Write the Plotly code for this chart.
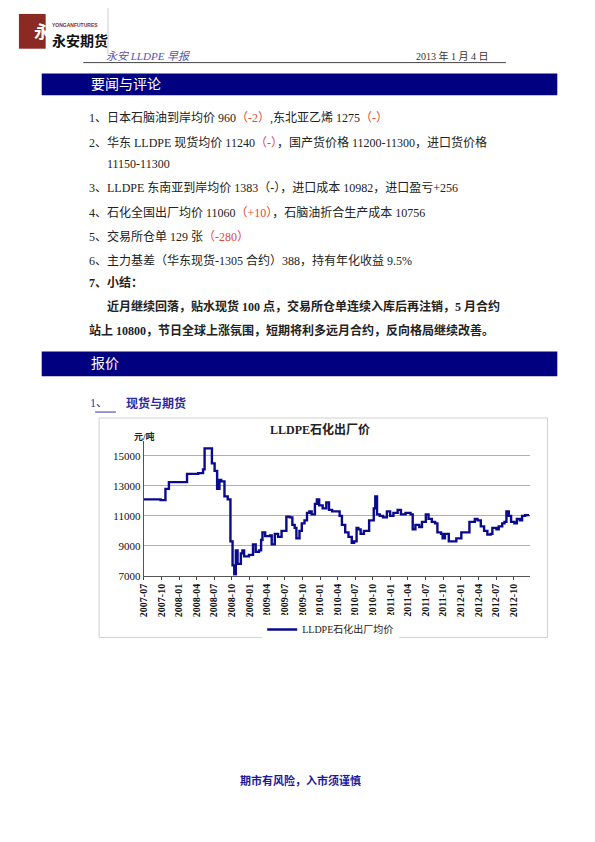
import plotly.graph_objects as go

# LLDPE petrochemical ex-factory price
dates = [
    "2007-07-01", "2007-09-27", "2007-10-22", "2007-11-09", "2008-01-24", "2008-02-11",
    "2008-04-09", "2008-05-04", "2008-05-12", "2008-06-07", "2008-06-19", "2008-07-03",
    "2008-07-16", "2008-07-28", "2008-08-06", "2008-08-23", "2008-09-09", "2008-09-23",
    "2008-10-04", "2008-10-13", "2008-10-21", "2008-10-30", "2008-11-16", "2008-11-24",
    "2008-12-03", "2008-12-28", "2009-01-18", "2009-02-01", "2009-02-18", "2009-03-01",
    "2009-03-08", "2009-03-22", "2009-04-16", "2009-04-25", "2009-05-11", "2009-05-28",
    "2009-06-15", "2009-07-02", "2009-07-10", "2009-07-27", "2009-08-10", "2009-08-22",
    "2009-08-31", "2009-09-16", "2009-09-28", "2009-10-12", "2009-10-25", "2009-11-06",
    "2009-11-18", "2009-12-05", "2009-12-15", "2009-12-27", "2010-01-14", "2010-02-02",
    "2010-02-16", "2010-03-04", "2010-03-29", "2010-04-12", "2010-04-24", "2010-05-11",
    "2010-05-28", "2010-06-14", "2010-06-26", "2010-07-09", "2010-07-18", "2010-07-30",
    "2010-08-16", "2010-09-02", "2010-09-12", "2010-10-06", "2010-10-14", "2010-10-23",
    "2010-11-06", "2010-11-23", "2010-12-13", "2010-12-30", "2011-01-16", "2011-02-07",
    "2011-02-24", "2011-03-20", "2011-04-15", "2011-04-26", "2011-05-10", "2011-05-30",
    "2011-06-13", "2011-07-03", "2011-07-17", "2011-08-03", "2011-08-20", "2011-09-01",
    "2011-09-20", "2011-09-28", "2011-10-10", "2011-10-30", "2011-11-21", "2011-12-08",
    "2012-01-03", "2012-01-25", "2012-02-14", "2012-03-13", "2012-03-27", "2012-04-13",
    "2012-04-30", "2012-05-17", "2012-06-03", "2012-06-12", "2012-07-03", "2012-07-15",
    "2012-08-02", "2012-08-14", "2012-08-24", "2012-09-05", "2012-09-17", "2012-10-04",
    "2012-10-17", "2012-11-01", "2012-11-13", "2012-11-29", "2012-12-20",
]
prices = [
    12100, 12050, 12800, 13250, 13250, 13800,
    13850, 14100, 15500, 15500, 14500, 14000,
    12800, 13400, 13300, 12300, 12100, 9300,
    7700, 7100, 8700, 7800, 8500, 8700,
    8300, 8400, 9100, 8600, 8700, 9400,
    9900, 9650, 9700, 9100, 9800, 9600,
    10000, 10000, 10950, 10900, 10400, 10200,
    9500, 10000, 10500, 10700, 11200, 11300,
    11100, 11800, 12100, 11700, 11500, 11900,
    11400, 11300, 11300, 11000, 10400, 9900,
    9600, 9200, 9300, 10200, 10100, 9800,
    10000, 10000, 10700, 11500, 12300, 11100,
    11000, 10900, 11300, 11000, 11200, 11400,
    11100, 11200, 11100, 10100, 10400, 10250,
    10600, 11100, 10800, 10600, 10500, 9900,
    9800, 9500, 9800, 9300, 9300, 9500,
    9900, 9900, 10600, 10800, 10700, 10300,
    10000, 9750, 9800, 10200, 10100, 10300,
    10500, 10600, 11300, 11000, 10600, 10500,
    10800, 10700, 11000, 11050, 11060,
]
y_ticks = [7000, 9000, 11000, 13000, 15000]

news = [
    "1、日本石脑油到岸均价 960<span style='color:#e04a3c'>（-2）</span>,东北亚乙烯 1275<span style='color:#e04a3c'>（-）</span>",
    "2、华东 LLDPE 现货均价 11240<span style='color:#e04a3c'>（-）</span>，国产货价格 11200-11300，进口货价格",
    "      11150-11300",
    "3、LLDPE 东南亚到岸均价 1383（-），进口成本 10982，进口盈亏+256",
    "4、石化全国出厂均价 11060<span style='color:#e04a3c'>（+10）</span>，石脑油折合生产成本 10756",
    "5、交易所仓单 129 张<span style='color:#e04a3c'>（-280）</span>",
    "6、主力基差（华东现货-1305 合约）388，持有年化收益 9.5%",
    "<b>7、小结：</b>",
    "<b>      近月继续回落，贴水现货 100 点，交易所仓单连续入库后再注销，5 月合约</b>",
    "<b>站上 10800，节日全球上涨氛围，短期将利多远月合约，反向格局继续改善。</b>",
]
news_y = [119, 143, 165, 189, 214, 238, 262, 285, 309, 333]

# page drawn inside the browser's 8px body margin
OFF = 8
W, H = 595 - 2 * OFF, 842 - 2 * OFF
FONT = "Liberation Serif, Noto Sans CJK SC"
NAVY = "#000080"


def py(p):
    return 1 - (p - OFF) / H


def px_(x):
    return (x - OFF) / W


fig = go.Figure()
fig.add_trace(go.Scatter(
    x=dates, y=prices, mode="lines", line=dict(color="#0a0a8c", width=2.4, shape="hv"),
    name="LLDPE石化出厂均价",
))

shapes = [
    dict(type="line", xref="paper", yref="paper", x0=px_(103), x1=px_(103), y0=py(8), y1=py(55),
         line=dict(color="#cccccc", width=1)),
    dict(type="line", xref="paper", yref="paper", x0=px_(78), x1=px_(505), y0=py(63), y1=py(63),
         line=dict(color="#444444", width=1)),
    dict(type="rect", xref="paper", yref="paper", x0=px_(36), x1=px_(557), y0=py(74), y1=py(96),
         fillcolor=NAVY, line=dict(width=0)),
    dict(type="rect", xref="paper", yref="paper", x0=px_(36), x1=px_(557), y0=py(354), y1=py(379),
         fillcolor=NAVY, line=dict(width=0)),
    dict(type="rect", xref="paper", yref="paper", x0=px_(13), x1=px_(40), y0=py(14), y1=py(49),
         fillcolor="#8b2a22", line=dict(width=0)),
    dict(type="rect", xref="paper", yref="paper", x0=px_(94), x1=px_(547), y0=py(421), y1=py(642),
         line=dict(color="#d0d0d0", width=1)),
    dict(type="line", xref="paper", yref="paper", x0=px_(90), x1=px_(111), y0=py(415), y1=py(415),
         line=dict(color="#3030c0", width=1)),
]

logo = [
    dict(x=px_(26.5), y=py(31), text="<b>永</b>", font=dict(size=17, color="white", family="Noto Sans CJK SC")),
    dict(x=px_(44), y=py(25), text="<b>YONGANFUTURES</b>", xanchor="left",
         font=dict(size=5, color="#8b2a22", family="Liberation Sans")),
    dict(x=px_(44), y=py(40), text="<b>永安期货</b>", xanchor="left",
         font=dict(size=14, color="#111111", family="Noto Sans CJK SC")),
]
ann = [
    dict(x=px_(105), y=py(56), text="<i>永安 LLDPE 早报</i>", xanchor="left",
         font=dict(size=11, color="#5555aa", family=FONT)),
    dict(x=px_(490), y=py(56), text="2013 年 1 月 4 日", xanchor="right",
         font=dict(size=10, color="#333333", family=FONT)),
    dict(x=px_(90), y=py(85), text="要闻与评论", xanchor="left",
         font=dict(size=14, color="white", family=FONT)),
    dict(x=px_(90), y=py(366), text="报价", xanchor="left",
         font=dict(size=14, color="white", family=FONT)),
    dict(x=px_(89), y=py(406), text="1、", xanchor="left",
         font=dict(size=12, color="#3030c0", family=FONT)),
    dict(x=px_(125), y=py(406), text="<b>现货与期货</b>", xanchor="left",
         font=dict(size=12, color="#2a2a9a", family=FONT)),
    dict(x=px_(317), y=py(433), text="<b>LLDPE石化出厂价</b>",
         font=dict(size=12, color="#222222", family=FONT)),
    dict(x=px_(133), y=py(440), text="<b>元/吨</b>", xanchor="left",
         font=dict(size=9, color="#222222", family=FONT)),
    dict(x=px_(297), y=py(786), text="<b>期市有风险，入市须谨慎</b>",
         font=dict(size=11, color="#1a1aa0", family=FONT)),
]
for t, y in zip(news, news_y):
    ann.append(dict(x=px_(88), y=py(y), text=t, xanchor="left",
                    font=dict(size=12, color="#222222", family=FONT)))
for a in ann:
    if a.get("xanchor") == "left":
        a["x"] -= 6 / W
ann = logo + ann
for a in ann:
    a.update(xref="paper", yref="paper", showarrow=False, yanchor="middle")

fig.update_layout(
    width=W, height=H, margin=dict(l=0, r=0, t=0, b=0),
    paper_bgcolor="white", plot_bgcolor="white",
    shapes=shapes, annotations=ann,
    showlegend=True,
    legend=dict(x=px_(328), y=py(634), xanchor="center", yanchor="middle", orientation="h",
                font=dict(size=10, family=FONT, color="#222222")),
    xaxis=dict(domain=[px_(139), px_(529)], range=["2007-07-01", "2012-12-22"],
               tickformat="%Y-%m", dtick="M3", tick0="2007-07-01", tickangle=-90,
               showgrid=False, showline=True, linecolor="#555555", ticks="outside",
               ticklen=3, tickfont=dict(size=10, family=FONT, color="#111111")),
    yaxis=dict(domain=[py(580), py(444)], range=[7000, 16000], tickvals=y_ticks,
               tickformat="d", showgrid=True, gridcolor="#b0b0b0", showline=True,
               linecolor="#555555", zeroline=False,
               tickfont=dict(size=11, family=FONT, color="#111111")),
)
fig.update_xaxes(tickprefix="<b>", ticksuffix="</b>")
fig.update_yaxes(tickprefix="<b>", ticksuffix="</b>")

fig.write_html("out.html")
